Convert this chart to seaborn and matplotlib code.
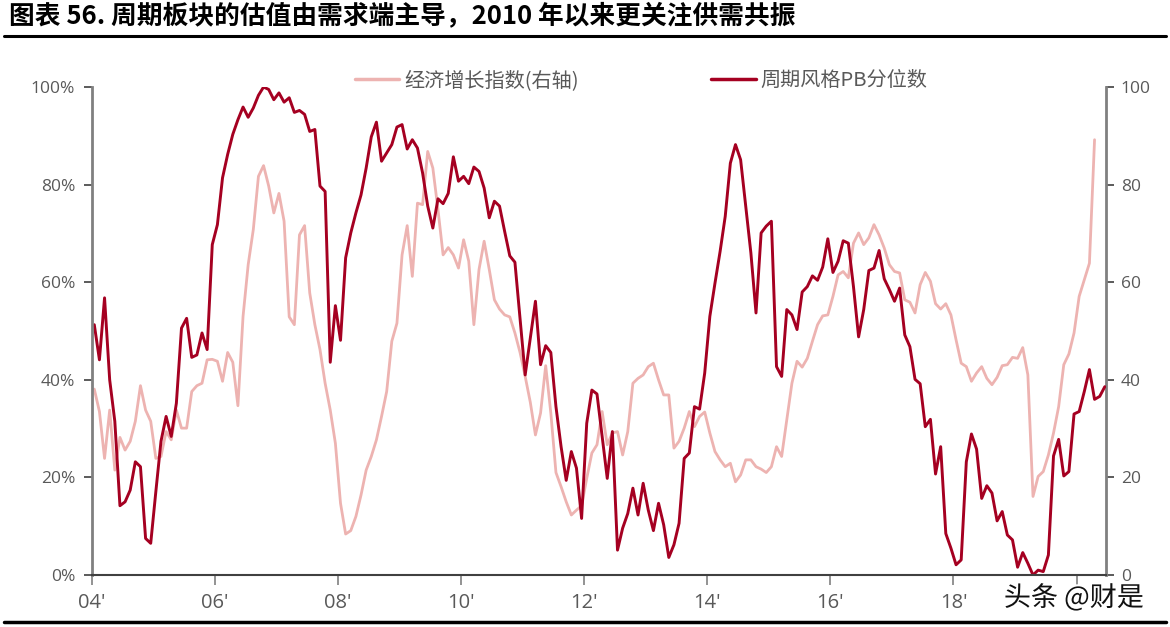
import numpy as np
import pandas as pd
import matplotlib
matplotlib.use("Agg")
import matplotlib.pyplot as plt
import seaborn as sns
from matplotlib.lines import Line2D
from matplotlib import font_manager
import matplotlib.patheffects as pe

# ---------------- data ----------------
title_text = "图表 56. 周期板块的估值由需求端主导，2010 年以来更关注供需共振"
pb_name = "周期风格PB分位数"
econ_name = "经济增长指数(右轴)"
watermark = "头条 @财是"
start_year = 2004  # monthly series starting Jan 2004

pb_values = [
    51.3, 44.1, 56.8, 40.0, 31.5, 14.2, 15.0, 17.4, 23.2, 22.2, 7.5, 6.5, 17.1, 27.4, 32.5, 28.4,
    35.2, 50.6, 52.6, 44.6, 45.1, 49.6, 46.2, 67.7, 71.8, 81.4, 86.2, 90.3, 93.3, 95.9, 93.8, 95.7,
    98.3,
    100.0, 99.5, 97.4, 98.8, 96.9, 97.8, 94.8, 95.2, 94.4, 90.9, 91.3, 79.7, 78.6, 43.6, 55.2, 48.1,
    65.0, 70.1, 74.2, 77.9, 83.4, 89.8, 92.8, 84.8, 86.5, 88.2, 91.8, 92.3, 87.3, 89.2, 87.5, 82.4, 75.6,
    71.1, 77.1, 76.1, 78.2, 85.7, 80.7, 81.7, 80.2, 83.6, 82.7, 79.3, 73.2, 76.6, 75.6, 70.4, 65.4,
    64.1, 52.6, 41.0, 48.5, 56.1, 43.1, 47.0, 45.6, 34.5, 26.3, 19.4, 25.3, 21.9, 11.6, 31.1, 37.9, 37.1,
    28.4, 19.8, 29.4, 5.1, 9.6, 12.6, 17.8, 12.3, 18.8, 13.3, 9.1, 14.7, 10.3, 3.6, 6.2, 10.6, 23.9,
    25.0, 34.5, 34.0, 41.4, 53.0, 59.8, 66.3, 73.5, 84.4, 88.2, 85.1, 75.6, 66.0, 53.7, 70.1, 71.5, 72.5,
    42.7, 40.7, 54.4, 53.3, 50.3, 58.0, 59.1, 61.3, 60.4, 63.1, 68.9, 62.0, 64.3, 68.5, 68.0, 59.1,
    48.8, 54.4, 62.4, 62.9, 66.5, 60.7, 58.5, 56.1, 58.8, 49.2, 46.8, 40.1, 39.2, 30.4, 31.9, 20.7, 26.3,
    8.5, 5.5, 2.1, 3.1, 23.2, 28.9, 25.8, 15.7, 18.3, 16.8, 11.1, 13.0, 8.2, 7.2, 1.6, 4.6,
    2.4, 0.0, 1.0, 0.7, 4.1, 24.4, 27.8, 20.3, 21.2, 33.0, 33.5, 37.6, 42.1, 36.0, 36.6, 38.6,
]

econ_values = [
    38.1, 33.5, 23.9, 33.8, 21.5, 28.2, 25.6, 27.4, 31.5, 38.8, 33.8, 31.5, 23.9, 24.3, 29.4, 27.7,
    33.8, 30.1, 30.1, 37.6, 38.8, 39.3, 44.1, 44.2, 43.8, 39.7, 45.6, 43.6, 34.7, 53.0, 63.6, 70.8, 81.7,
    83.9, 79.7, 74.2, 78.2, 72.5, 52.9, 51.3, 69.7, 71.6, 57.8, 51.3, 46.2, 39.3, 33.8, 27.0, 14.7,
    8.4, 9.1, 12.0, 16.4, 21.5, 24.3, 27.7, 32.5, 37.6, 47.9, 51.6, 65.6, 71.6, 61.2, 76.2, 75.9, 86.8,
    83.4, 74.9, 65.6, 67.1, 65.6, 62.9, 68.7, 64.3, 51.3, 62.6, 68.4, 62.6, 56.4, 54.5, 53.3, 52.9,
    49.6, 45.6, 40.7, 35.4, 28.7, 33.2, 42.9, 33.2, 21.0, 18.1, 15.0, 12.3, 13.3, 14.2, 19.8, 25.0, 26.7,
    33.5, 26.7, 29.1, 29.4, 24.6, 29.4, 39.3, 40.3, 41.0, 42.7, 43.4, 40.0, 36.9, 36.9, 26.0, 27.4,
    30.1, 33.5, 30.4, 32.5, 33.4, 29.1, 25.3, 23.6, 22.2, 22.9, 19.1, 20.5, 23.6, 23.6, 22.2, 21.7, 21.0, 22.2,
    26.3, 24.3, 31.8, 39.3, 43.8, 42.6, 44.4, 47.9, 51.3, 53.1, 53.3, 57.1, 61.5, 62.2, 60.9, 68.0,
    70.1, 67.7, 69.1, 71.8, 69.7, 67.0, 63.6, 62.2, 61.9, 56.4, 55.9, 53.7, 59.5, 62.0, 60.2, 55.6, 54.5,
    55.6, 53.3, 48.2, 43.4, 42.7, 39.7, 41.4, 42.7, 40.3, 39.0, 40.5, 42.9, 43.1, 44.6, 44.4, 46.6,
    41.0, 16.1, 20.2, 21.2, 24.6, 29.1, 34.5, 43.1, 45.3, 49.6, 57.1, 60.5, 63.9, 89.2,
]

x_tick_years = [2004, 2006, 2008, 2010, 2012, 2014, 2016, 2018, 2020]
x_tick_labels = ["04'", "06'", "08'", "10'", "12'", "14'", "16'", "18'", ""]
y_ticks = [0, 20, 40, 60, 80, 100]
left_tick_labels = ["0%", "20%", "40%", "60%", "80%", "100%"]
right_tick_labels = ["0", "20", "40", "60", "80", "100"]

# ---------------- style ----------------
RED = "#A50021"
PINK = "#EDB3B1"
GRAY_TXT = "#595959"
SPINE = "#808080"

sns.set_theme(style="white")
plt.rcParams["font.family"] = ["Noto Sans CJK SC", "DejaVu Sans"]

avail = {f.name for f in font_manager.fontManager.ttflist}
tick_family = "Open Sans" if "Open Sans" in avail else "DejaVu Sans"

fig = plt.figure(figsize=(11.7, 6.27), dpi=100)
ax = fig.add_axes([0.0784, 0.0829, 0.9449 - 0.0784, 0.8612 - 0.0829])
ax2 = ax.twinx()

t_pb = start_year + (np.arange(len(pb_values)) + 0.5) / 12.0
t_ec = start_year + (np.arange(len(econ_values)) + 0.5) / 12.0
df_pb = pd.DataFrame({"t": t_pb, "v": pb_values})
df_ec = pd.DataFrame({"t": t_ec, "v": econ_values})

sns.lineplot(data=df_ec, x="t", y="v", ax=ax2, color=PINK, linewidth=2.0, legend=False)
sns.lineplot(data=df_pb, x="t", y="v", ax=ax, color=RED, linewidth=2.1, legend=False)

ax.set_zorder(ax2.get_zorder() + 1)
ax.patch.set_visible(False)

for a in (ax, ax2):
    a.set_xlim(2004.0, 2020.47)
    a.set_ylim(0, 100)
    a.set_xlabel("")
    a.set_ylabel("")
    a.grid(False)

ax.set_xticks(x_tick_years)
ax.set_xticklabels(x_tick_labels)
ax.set_yticks(y_ticks)
ax.set_yticklabels(left_tick_labels)
ax2.set_yticks(y_ticks)
ax2.set_yticklabels(right_tick_labels)

for lab in ax.get_xticklabels():
    lab.set_fontfamily(tick_family)
    lab.set_fontsize(14.5)
    lab.set_color(GRAY_TXT)
for lab in ax.get_yticklabels() + ax2.get_yticklabels():
    lab.set_fontfamily(tick_family)
    lab.set_fontsize(12.5)
    lab.set_color(GRAY_TXT)

ax.tick_params(axis="x", bottom=True, direction="out", length=7, width=1.2, color=SPINE, pad=6)
ax.tick_params(axis="y", left=True, right=False, direction="out", length=6, width=1.2, color="#404040", pad=6)
ax2.tick_params(axis="y", right=True, left=False, direction="out", length=6, width=1.2, color="#404040", pad=5)

ax.spines["top"].set_visible(False)
ax.spines["right"].set_visible(False)
ax.spines["left"].set_color(SPINE)
ax.spines["left"].set_linewidth(2.0)
ax.spines["bottom"].set_color("#404040")
ax.spines["bottom"].set_linewidth(1.5)
ax2.spines["top"].set_visible(False)
ax2.spines["left"].set_visible(False)
ax2.spines["bottom"].set_visible(False)
ax2.spines["right"].set_color(SPINE)
ax2.spines["right"].set_linewidth(2.0)

# legend
h_ec = Line2D([], [], color=PINK, linewidth=2.5)
h_pb = Line2D([], [], color=RED, linewidth=2.5)
leg = fig.legend([h_ec, h_pb], [econ_name, pb_name], loc="center",
                 bbox_to_anchor=(0.548, 0.872), ncol=2, frameon=False,
                 fontsize=14.5, handlelength=2.2, handletextpad=0.25, columnspacing=6.6)
for txt in leg.get_texts():
    txt.set_color(GRAY_TXT)

# title and rules
fig.text(0.008, 1 - 16.0 / 627, title_text, fontsize=18.5, fontweight="bold", color="black",
         ha="left", va="center")
fig.add_artist(Line2D([0.003, 0.997], [1 - 35.5 / 627, 1 - 35.5 / 627], transform=fig.transFigure,
                      color="black", linewidth=2.2))
fig.add_artist(Line2D([0.003, 0.997], [1 - 622 / 627, 1 - 622 / 627], transform=fig.transFigure,
                      color="black", linewidth=2.5))

# watermark
fig.text(1074 / 1170, 1 - 598 / 627, watermark, fontsize=19.5, color="#111111", ha="center", va="center",
         path_effects=[pe.withStroke(linewidth=3, foreground="white")])

fig.savefig("out.png", dpi=100)
